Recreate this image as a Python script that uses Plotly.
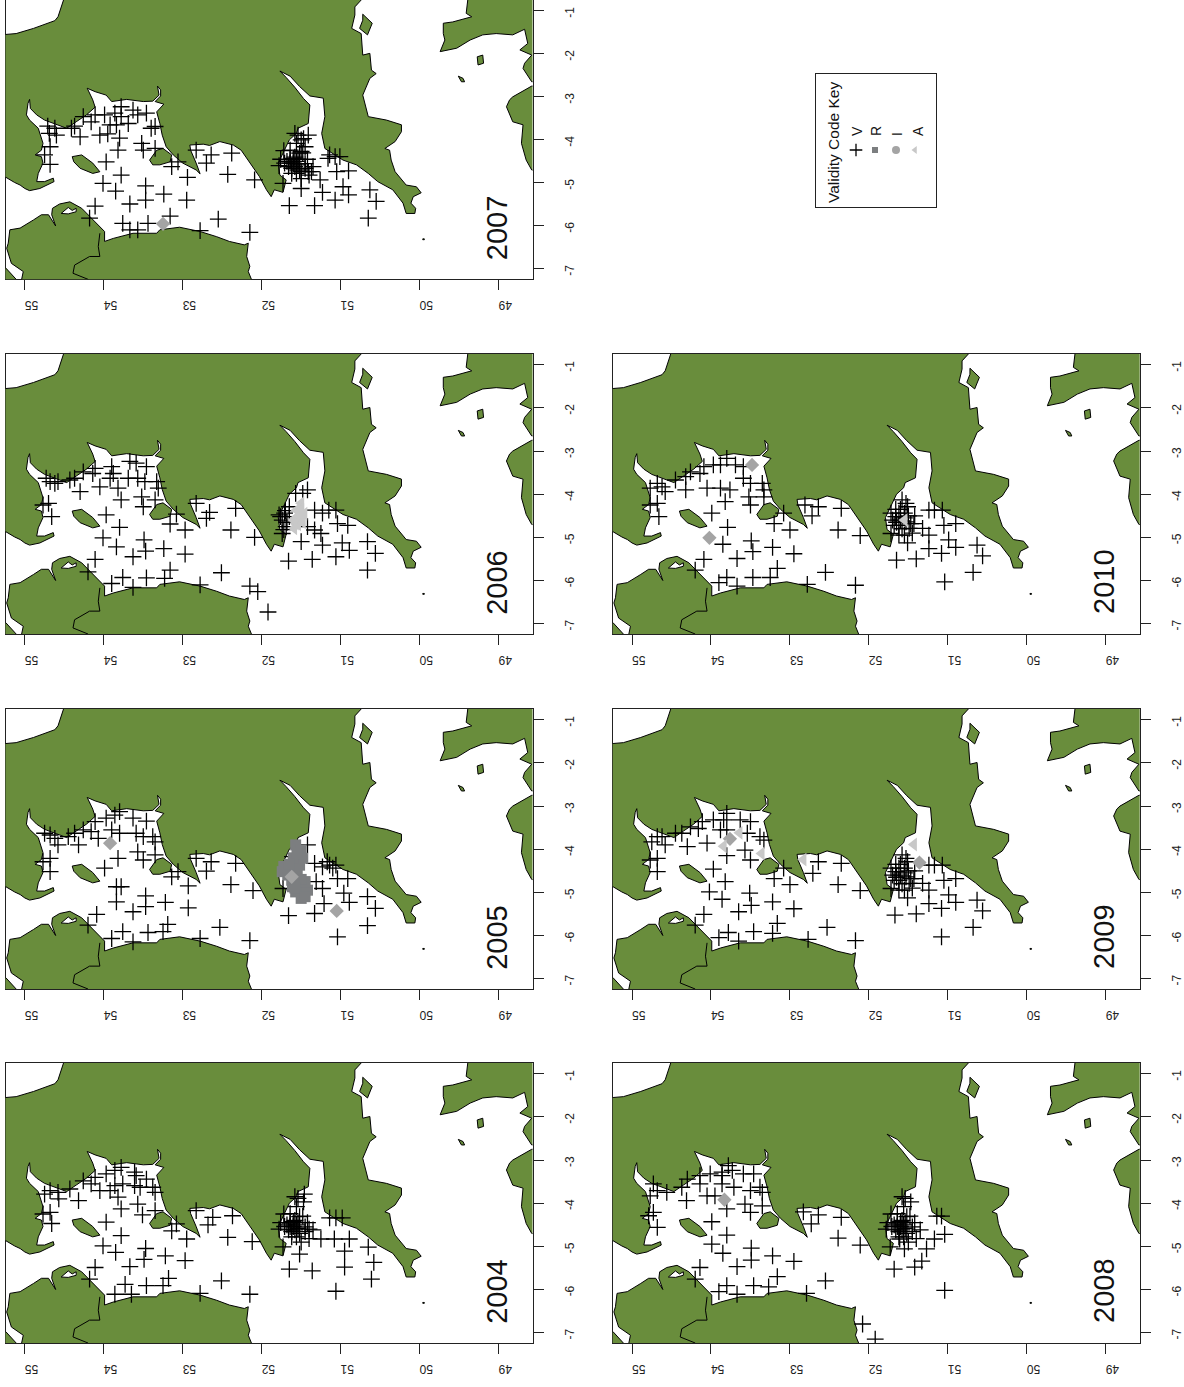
import plotly.graph_objects as go

YEARS = [2004, 2005, 2006, 2007, 2008, 2009, 2010]
TICK_LAT = [55, 54, 53, 52, 51, 50, 49]
TICK_LON = [-1, -2, -3, -4, -5, -6, -7]
CODES = ["V", "R", "I", "A"]

# Coastlines: (latitude, longitude) vertices
GREAT_BRITAIN = [(54.51,-0.6),(54.51,-0.75),(54.58,-1.14),(54.62,-1.23),(54.89,-1.41),(55.11,-1.53),(55.24,-1.55),(55.36,-1.55),(55.36,-4.87),(55.24,-4.87),(55.13,-4.99),(55.06,-5.05),(55.00,-5.13),(54.94,-5.18),(54.81,-5.13),(54.63,-4.97),(54.64,-4.89),(54.75,-4.97),(54.85,-4.97),(54.83,-4.78),(54.77,-4.54),(54.79,-4.39),(54.87,-4.35),(54.79,-4.24),(54.77,-4.08),(54.81,-3.85),(54.83,-3.73),(54.94,-3.54),(54.98,-3.42),(54.96,-3.15),(54.94,-3.06),(54.93,-3.27),(54.85,-3.42),(54.75,-3.54),(54.62,-3.63),(54.47,-3.73),(54.35,-3.58),(54.22,-3.42),(54.11,-3.24),(54.14,-3.07),(54.21,-2.80),(54.11,-2.88),(53.97,-2.96),(53.90,-3.11),(53.71,-3.06),(53.50,-3.11),(53.38,-3.10),(53.30,-2.96),(53.32,-2.75),(53.28,-2.84),(53.28,-2.98),(53.35,-3.11),(53.24,-3.17),(53.33,-3.35),(53.29,-3.62),(53.26,-3.89),(53.21,-4.16),(53.12,-4.35),(53.00,-4.54),(52.83,-4.70),(52.78,-4.79),(52.83,-4.54),(52.90,-4.24),(52.91,-4.12),(52.74,-4.10),(52.66,-4.13),(52.53,-4.04),(52.36,-4.12),(52.26,-4.24),(52.15,-4.54),(52.03,-4.85),(51.94,-5.16),(51.88,-5.32),(51.84,-5.16),(51.73,-5.22),(51.69,-4.93),(51.77,-4.82),(51.79,-4.54),(51.73,-4.31),(51.65,-4.00),(51.56,-3.85),(51.54,-3.73),(51.41,-3.62),(51.39,-3.19),(51.47,-3.04),(51.58,-2.78),(51.69,-2.55),(51.77,-2.40),(51.64,-2.52),(51.52,-2.76),(51.39,-2.98),(51.22,-3.03),(51.20,-3.46),(51.24,-3.85),(51.20,-4.20),(51.14,-4.27),(50.97,-4.47),(50.80,-4.58),(50.65,-4.78),(50.53,-4.97),(50.34,-5.16),(50.21,-5.47),(50.17,-5.71),(50.06,-5.71),(50.05,-5.59),(50.11,-5.47),(50.08,-5.32),(49.98,-5.23),(50.04,-5.09),(50.17,-5.05),(50.31,-4.74),(50.36,-4.47),(50.38,-4.24),(50.44,-4.20),(50.31,-4.04),(50.23,-3.81),(50.23,-3.65),(50.42,-3.54),(50.65,-3.46),(50.72,-2.96),(50.63,-2.57),(50.55,-2.46),(50.61,-2.38),(50.63,-1.99),(50.72,-2.03),(50.74,-1.53),(50.86,-1.41),(50.82,-1.10),(50.82,-0.91),(50.74,-0.75),(50.74,-0.52)]
WIGHT = [(50.72,-1.08),(50.60,-1.29),(50.66,-1.56),(50.76,-1.41),(50.72,-1.22)]
MAN = [(54.40,-4.39),(54.28,-4.35),(54.14,-4.54),(54.05,-4.74),(54.14,-4.78),(54.30,-4.66),(54.38,-4.51)]
ANGLESEY = [(53.42,-4.47),(53.33,-4.24),(53.25,-4.20),(53.14,-4.35),(53.16,-4.51),(53.29,-4.58),(53.38,-4.58)]
IRELAND = [(55.19,-6.09),(55.06,-6.05),(54.89,-5.86),(54.79,-5.74),(54.70,-5.74),(54.61,-6.00),(54.66,-5.74),(54.65,-5.59),(54.56,-5.49),(54.43,-5.44),(54.28,-5.59),(54.18,-5.78),(54.07,-5.98),(53.99,-6.13),(53.99,-6.36),(53.88,-6.29),(53.63,-6.17),(53.33,-6.17),(53.29,-6.09),(53.04,-6.03),(52.78,-6.13),(52.57,-6.25),(52.41,-6.36),(52.22,-6.44),(52.17,-6.40),(52.19,-6.71),(52.15,-6.94),(52.17,-7.06),(52.13,-7.24),(52.13,-7.41),(55.06,-7.41),(55.04,-7.24),(55.02,-7.06),(55.17,-6.87),(55.23,-6.52),(55.21,-6.40)]
DONEGAL = [(55.24,-6.98),(55.11,-7.24),(55.11,-7.45),(55.40,-7.45),(55.40,-6.98)]
FRANCE_N = [(49.39,-0.6),(49.39,-0.75),(49.41,-1.06),(49.34,-1.14),(49.58,-1.26),(49.70,-1.29),(49.70,-1.53),(49.68,-1.68),(49.74,-1.95),(49.53,-1.87),(49.36,-1.68),(49.20,-1.56),(49.03,-1.53),(48.82,-1.56),(48.67,-1.43),(48.63,-1.76),(48.73,-1.91),(48.58,-2.03),(48.67,-2.22),(48.69,-2.34),(48.58,-2.65),(48.48,-2.65),(48.48,-0.6)]
FRANCE_W = [(48.48,-2.73),(48.58,-2.75),(48.82,-3.00),(48.86,-3.07),(48.90,-3.23),(48.82,-3.58),(48.69,-3.65),(48.71,-4.08),(48.65,-4.47),(48.58,-4.70),(48.48,-4.74)]
JERSEY = [(49.27,-2.07),(49.20,-2.03),(49.19,-2.22),(49.26,-2.26)]
GUERNSEY = [(49.51,-2.52),(49.45,-2.57),(49.43,-2.65),(49.47,-2.65)]
SCILLY = [(49.96,-6.30),(49.94,-6.30),(49.94,-6.32),(49.96,-6.32)]
LAKE = [(54.54,-5.71),(54.45,-5.57),(54.40,-5.64),(54.35,-5.59),(54.35,-5.67),(54.45,-5.72),(54.54,-5.71)]
BORDER = [(54.05,-6.17),(54.07,-6.48),(54.05,-6.71),(54.18,-6.71),(54.37,-6.91),(54.39,-7.10),(54.20,-7.24),(54.13,-7.41)]
LAND = [GREAT_BRITAIN, WIGHT, MAN, ANGLESEY, IRELAND, DONEGAL, FRANCE_N, FRANCE_W, JERSEY, GUERNSEY, SCILLY]

# Dense sampling around the inlet, repeated in several years
CORE_A = [(51.68,-4.50),(51.64,-4.46),(51.60,-4.43),(51.64,-4.54),(51.60,-4.54),(51.56,-4.50),(51.66,-4.62),(51.62,-4.66),(51.58,-4.62),(51.54,-4.58),(51.71,-4.54),(51.52,-4.31),(51.56,-4.08),(51.54,-3.89),(51.47,-3.97),(51.58,-3.85),(51.64,-4.24),(51.52,-4.70),(51.45,-4.66),(51.56,-4.78),(51.62,-4.78),(51.50,-4.90),(51.73,-5.01),(51.58,-4.40),(51.54,-4.45),
          (51.45,-4.55),(51.40,-4.82),(51.35,-4.62),(51.42,-4.45),(51.48,-4.30),(51.78,-4.60),(51.76,-4.45),(51.72,-4.25)]
CORE_B = [(51.62,-4.44),(51.66,-4.52),(51.55,-4.44),(51.60,-4.60),(51.51,-4.29),(51.58,-4.13),(51.72,-4.44),(51.70,-4.60),(51.62,-4.72),(51.53,-4.64),(51.47,-4.68),(51.62,-4.95),(51.72,-4.91),(51.53,-4.21),(51.49,-4.79),
          (51.55,-4.55),(51.65,-4.65),(51.58,-4.80),(51.68,-4.72),(51.50,-4.50),(51.42,-4.50),(51.60,-4.35),(51.66,-4.35),(51.45,-4.90),(51.55,-4.95)]

V_2004 = [(53.78,-3.17),(53.61,-3.28),(53.46,-3.44),(53.97,-3.32),(53.86,-3.24),(54.11,-3.40),(54.26,-3.48),(54.68,-3.71),(54.75,-3.79),(54.58,-3.75),(54.57,-3.90),(54.32,-3.94),(54.43,-3.67),(54.05,-3.71),(54.16,-3.55),(53.92,-3.71),(53.86,-3.59),(53.76,-3.55),(53.61,-3.59),(53.54,-3.63),(53.38,-3.63),(53.35,-3.75),(53.82,-3.86),(53.78,-4.13),(53.57,-4.02),(53.51,-4.27),(53.35,-4.17),(53.59,-3.36),(54.68,-4.21),(54.77,-4.25),(54.66,-4.47),(53.97,-4.44),(53.78,-4.75),(54.01,-4.99),(53.85,-5.14),(53.47,-5.05),(53.49,-5.30),(53.22,-5.22),(52.97,-5.33),(53.67,-5.47),(54.11,-5.49),(54.18,-5.76),(53.73,-5.88),(53.86,-6.11),(53.65,-6.11),(53.46,-5.91),(53.25,-5.91),(53.18,-5.74),(52.78,-6.09),(52.51,-5.80),(52.15,-6.11),(51.65,-5.53),(52.12,-4.89),(52.43,-4.79),(52.95,-4.83),(53.14,-4.64),(53.08,-4.48),(52.83,-4.17),(52.62,-4.33),(52.68,-4.50),(52.37,-4.29),
          (51.46,-3.79),(51.14,-4.34),(51.06,-4.34),(50.98,-4.34),(51.08,-4.83),(50.89,-4.83),(51.40,-4.60),(51.25,-4.83),(51.52,-5.18),(50.95,-5.11),(50.65,-5.02),(50.61,-5.76),(50.58,-5.37),(50.95,-5.48),(51.36,-5.57),(51.06,-6.04)]
V_2005 = [(53.80,-3.13),(53.63,-3.28),(53.46,-3.35),(53.97,-3.28),(53.86,-3.21),(54.11,-3.36),(54.26,-3.55),(54.37,-3.63),(54.45,-3.71),(54.68,-3.67),(54.75,-3.63),(54.62,-3.75),(54.58,-3.90),(54.32,-3.90),(54.07,-3.75),(54.16,-3.59),(53.90,-3.55),(53.80,-3.63),(53.59,-3.63),(53.50,-3.71),(53.38,-3.71),(53.35,-3.83),(53.57,-4.06),(53.50,-4.25),(53.82,-4.21),(53.35,-4.13),(54.68,-4.21),(54.77,-4.29),(54.68,-4.52),(53.99,-4.44),(53.84,-4.87),(53.78,-4.87),(53.84,-5.22),(53.47,-5.08),(53.47,-5.33),(53.22,-5.23),(52.93,-5.36),(53.63,-5.45),(54.09,-5.51),(54.20,-5.76),(53.76,-5.91),(53.90,-6.07),(53.63,-6.15),(53.44,-5.93),(53.25,-5.91),(53.19,-5.74),(52.78,-6.07),(52.53,-5.81),(52.15,-6.12),(51.66,-5.54),(52.11,-4.96),(52.39,-4.82),(52.93,-4.85),(53.14,-4.64),(53.06,-4.52),(52.83,-4.21),(52.64,-4.29),(52.70,-4.51),(52.33,-4.33),
          (51.42,-3.90),(51.33,-4.33),(51.23,-4.41),(51.14,-4.37),(51.06,-4.37),(51.04,-4.68),(50.91,-4.68),(51.31,-4.75),(51.23,-4.91),(50.96,-5.02),(50.66,-5.10),(50.89,-5.23),(51.21,-5.26),(50.56,-5.37),(51.33,-5.49),(50.66,-5.77),(51.04,-6.03),(51.17,-4.29),(51.10,-4.44),(51.61,-4.17),(51.73,-4.91)]
V_2006 = [(53.67,-3.24),(53.46,-3.36),(53.59,-3.28),(53.90,-3.36),(54.11,-3.40),(54.26,-3.48),(54.37,-3.63),(54.43,-3.67),(54.62,-3.75),(54.68,-3.71),(54.73,-3.63),(54.58,-3.71),(54.70,-4.21),(54.77,-4.25),(54.66,-4.52),(54.30,-3.94),(54.05,-3.83),(54.14,-3.52),(53.88,-3.52),(53.92,-3.63),(53.82,-3.86),(53.78,-4.13),(53.69,-3.63),(53.57,-3.63),(53.48,-3.71),(53.33,-3.71),(53.31,-3.86),(53.52,-4.06),(53.50,-4.29),(53.35,-4.13),(53.97,-4.48),(53.80,-4.77),(54.01,-5.01),(53.84,-5.22),(53.49,-5.06),(53.47,-5.32),(53.24,-5.26),(52.97,-5.39),(53.63,-5.45),(54.11,-5.51),(54.20,-5.80),(53.76,-5.93),(53.90,-6.07),(53.63,-6.16),(53.46,-5.94),(53.23,-5.95),(53.16,-5.76),(52.78,-6.10),(52.51,-5.82),(52.15,-6.13),(52.05,-6.26),(51.92,-6.73),(51.66,-5.55),(52.09,-5.00),(52.39,-4.83),(52.97,-4.83),(53.16,-4.69),(53.08,-4.46),(52.83,-4.21),(52.66,-4.42),(52.70,-4.56),(52.33,-4.33),
          (51.42,-3.90),(51.33,-4.37),(51.23,-4.44),(51.15,-4.37),(51.06,-4.37),(51.04,-4.68),(50.91,-4.72),(51.42,-4.75),(51.33,-4.83),(51.25,-4.91),(50.98,-5.13),(50.66,-5.10),(50.89,-5.30),(51.50,-5.10),(51.23,-5.18),(51.06,-5.45),(50.56,-5.37),(51.36,-5.51),(50.66,-5.76),(51.71,-4.44),(51.74,-4.60),(51.65,-4.29),(51.69,-4.75),(51.74,-4.91),(51.65,-4.52),(51.78,-4.48),(51.57,-3.98),(51.48,-3.98),(51.70,-4.38),(51.76,-4.52),(51.68,-4.65),(51.72,-4.82)]
V_2007 = [(53.78,-3.23),(53.86,-3.38),(53.99,-3.42),(54.11,-3.42),(53.63,-3.31),(53.46,-3.38),(53.78,-3.46),(53.84,-3.65),(53.69,-3.62),(53.57,-3.42),(54.16,-3.58),(54.26,-3.46),(54.37,-3.68),(54.30,-3.93),(54.41,-3.73),(54.71,-3.68),(54.62,-3.73),(54.60,-3.89),(54.69,-3.85),(53.92,-3.65),(54.05,-3.89),(53.95,-3.86),(53.80,-3.96),(53.52,-4.08),(53.50,-4.24),(53.35,-3.69),(53.40,-3.73),(53.35,-4.20),(53.82,-4.24),(54.68,-4.16),(54.75,-4.35),(54.68,-4.57),(53.97,-4.51),(53.78,-4.82),(54.01,-5.01),(53.85,-5.19),(53.47,-5.07),(53.47,-5.40),(53.24,-5.26),(52.95,-5.40),(53.67,-5.49),(54.11,-5.54),(54.18,-5.82),(53.76,-5.94),(53.67,-6.09),(53.57,-6.09),(53.44,-5.94),(53.16,-5.77),(52.78,-6.11),(52.55,-5.84),(52.15,-6.15),(51.65,-5.53),(52.09,-4.93),(52.43,-4.80),(52.94,-4.87),(53.14,-4.62),(53.06,-4.51),(52.83,-4.24),(52.64,-4.35),(52.70,-4.54),(52.38,-4.31),
          (51.41,-3.89),(51.50,-4.00),(51.45,-4.16),(51.50,-4.27),(51.14,-4.35),(51.07,-4.39),(51.01,-4.39),(51.16,-4.43),(51.05,-4.74),(50.90,-4.72),(51.41,-4.74),(51.50,-4.74),(51.37,-4.74),(51.26,-4.93),(51.50,-5.13),(51.23,-5.22),(50.97,-5.09),(50.90,-5.28),(51.07,-5.40),(50.63,-5.16),(50.55,-5.43),(50.65,-5.82),(51.33,-5.53)]
V_2008 = [(53.78,-3.13),(53.86,-3.28),(53.73,-3.24),(53.59,-3.32),(53.46,-3.32),(54.01,-3.32),(54.14,-3.36),(54.14,-3.55),(54.30,-3.44),(54.37,-3.63),(54.56,-3.75),(54.68,-3.71),(54.73,-3.55),(54.77,-3.83),(54.31,-3.94),(54.05,-3.83),(53.95,-3.83),(53.86,-3.36),(53.86,-3.55),(53.71,-3.63),(53.50,-3.71),(53.38,-3.63),(53.35,-3.75),(53.57,-4.02),(53.50,-4.21),(53.80,-4.13),(53.35,-4.06),(54.73,-4.21),(54.79,-4.29),(54.68,-4.56),(53.99,-4.43),(53.80,-4.74),(53.99,-4.95),(53.85,-5.16),(53.49,-5.04),(53.49,-5.32),(53.22,-5.22),(52.95,-5.35),(53.67,-5.47),(54.14,-5.49),(54.20,-5.76),(53.80,-5.91),(53.90,-6.05),(53.67,-6.11),(53.46,-5.91),(53.27,-5.94),(53.16,-5.70),(52.79,-6.09),(52.55,-5.80),(52.08,-6.80),(51.92,-7.15),(51.68,-5.53),(52.11,-4.97),(52.39,-4.81),(52.83,-4.20),(52.64,-4.27),(52.73,-4.48),(52.35,-4.33),
          (51.04,-6.02),(51.42,-5.48),(51.14,-4.30),(51.08,-4.30),(51.04,-4.72),(51.27,-5.06),(51.33,-5.34),(51.17,-4.83),(51.55,-5.06),(51.61,-4.83)]
V_2009 = [(53.80,-3.17),(53.84,-3.32),(53.63,-3.32),(53.50,-3.36),(53.97,-3.32),(54.11,-3.36),(54.26,-3.48),(54.37,-3.63),(54.45,-3.63),(54.62,-3.71),(54.68,-3.71),(54.75,-3.83),(54.58,-3.90),(54.30,-3.94),(54.05,-3.86),(54.16,-3.52),(53.88,-3.55),(53.80,-3.55),(53.54,-3.63),(53.38,-3.71),(53.33,-3.79),(53.57,-4.02),(53.50,-4.25),(53.80,-4.15),(54.68,-4.21),(54.77,-4.25),(54.68,-4.52),(53.97,-4.46),(53.82,-4.75),(54.02,-4.99),(53.86,-5.16),(53.51,-5.02),(53.49,-5.30),(53.22,-5.22),(52.95,-5.38),(53.65,-5.45),(54.09,-5.51),(54.20,-5.76),(53.78,-5.93),(53.90,-6.05),(53.65,-6.13),(53.46,-5.91),(53.22,-5.95),(53.16,-5.72),(52.77,-6.09),(52.53,-5.81),(52.17,-6.12),(51.67,-5.53),(52.11,-4.96),(52.39,-4.82),(53.00,-4.82),(53.20,-4.68),(53.08,-4.44),(52.64,-4.29),(52.71,-4.56),(52.35,-4.33),
          (51.24,-4.37),(51.17,-4.37),(51.07,-4.37),(51.05,-4.72),(50.90,-4.68),(51.43,-4.68),(51.32,-4.79),(51.24,-4.95),(50.99,-5.06),(50.63,-5.18),(50.90,-5.23),(51.51,-5.13),(51.24,-5.26),(51.08,-5.37),(50.56,-5.43),(51.40,-5.50),(50.68,-5.81),(51.08,-6.03)]
V_2010 = [(53.80,-3.17),(53.88,-3.32),(53.97,-3.32),(54.09,-3.36),(53.69,-3.32),(53.59,-3.36),(54.14,-3.52),(54.26,-3.48),(54.32,-3.59),(54.45,-3.67),(54.68,-3.75),(54.62,-3.83),(54.77,-3.86),(54.58,-3.94),(54.32,-3.90),(54.05,-3.86),(53.88,-3.86),(53.76,-3.90),(53.59,-3.63),(53.50,-3.75),(53.35,-3.75),(53.33,-3.90),(53.52,-4.06),(53.50,-4.25),(53.82,-4.17),(53.33,-4.06),(54.68,-4.21),(54.77,-4.25),(54.66,-4.52),(53.99,-4.44),(53.79,-4.77),(53.85,-5.16),(53.49,-5.08),(53.47,-5.33),(53.22,-5.23),(52.95,-5.38),(53.67,-5.49),(54.09,-5.51),(54.20,-5.76),(53.80,-5.93),(53.90,-6.05),(53.67,-6.13),(53.47,-5.93),(53.25,-5.93),(53.16,-5.72),(52.78,-6.09),(52.55,-5.81),(52.17,-6.11),(51.65,-5.53),(52.11,-4.96),(52.39,-4.83),(53.00,-4.83),(53.20,-4.68),(53.08,-4.44),(52.81,-4.25),(52.64,-4.29),(52.72,-4.50),(52.35,-4.33),
          (51.24,-4.37),(51.17,-4.37),(51.07,-4.37),(51.05,-4.72),(50.90,-4.68),(51.43,-4.68),(51.32,-4.79),(51.24,-4.95),(50.99,-5.06),(50.63,-5.18),(50.90,-5.23),(51.51,-5.13),(51.24,-5.26),(51.08,-5.37),(50.56,-5.43),(51.40,-5.50),(50.68,-5.81),(51.04,-6.03)]

VALID = {2004: V_2004 + CORE_A, 2005: V_2005, 2006: V_2006, 2007: V_2007 + CORE_A,
         2008: V_2008 + CORE_A, 2009: V_2009 + CORE_B, 2010: V_2010 + CORE_B}

R_2005 = [(51.57,-3.90),(51.50,-4.02),(51.48,-4.21),(51.52,-4.37),(51.61,-4.44),(51.69,-4.48),(51.74,-4.52),(51.67,-4.60),(51.57,-4.75),(51.61,-4.87),(51.52,-4.83),(51.48,-4.99),(51.50,-5.14),(51.42,-4.95),(51.57,-4.99),(51.55,-4.56),
          (51.72,-4.40),(51.60,-4.20),(51.55,-4.10),(51.65,-4.35),(51.45,-4.75),(51.62,-4.72),(51.50,-4.70),(51.58,-4.90),(51.45,-5.10)]
FLAG_R = {2005: R_2005}
FLAG_I = {2005: [(53.92,-3.86),(51.62,-4.64),(51.05,-5.43)], 2007: [(53.25,-5.95)], 2008: [(53.83,-3.92)],
          2009: [(53.76,-3.76),(51.36,-4.31)], 2010: [(53.48,-3.32),(54.02,-5.01)]}
FLAG_A = {2006: [(51.50,-4.21),(51.52,-4.37),(51.55,-4.52),(51.57,-4.68),(51.59,-4.79),(51.50,-4.52),(51.56,-4.37),(51.50,-4.37),(51.46,-4.45),(51.54,-4.70),(51.48,-4.65),(51.60,-4.60)],
          2009: [(53.64,-3.62),(53.84,-3.93),(53.36,-4.10),(52.83,-4.24),(51.43,-3.89)],
          2010: [(51.55,-4.60)]}

W, H = 1184, 1387
GREEN = "#698d3c"
COLS = {"R": "#7c7e80", "I": "#a4a4a4", "A": "#c8c8c8"}
LEFT = [5.5, 612.7]
WIDTH = 527
PLACE = {2007: (0, 0, 279.3), 2006: (0, 354, 280), 2005: (0, 709, 280), 2004: (0, 1063, 280),
         2010: (1, 354, 280), 2009: (1, 709, 280), 2008: (1, 1063, 280)}


def unzip(points):
    return [p[0] for p in points], [p[1] for p in points]


land_lat, land_lon = [], []
for poly in LAND:
    a, b = unzip(poly + poly[:1])
    land_lat += a + [None]
    land_lon += b + [None]

NB = "\u00a0"
fig = go.Figure()
layout = {}
notes = []
for i, year in enumerate(YEARS, start=1):
    col, top, tall = PLACE[year]
    xa, ya = f"x{i}", f"y{i}"
    suffix = "" if i == 1 else str(i)
    layout["xaxis" + suffix] = dict(
        domain=[LEFT[col] / W, (LEFT[col] + WIDTH) / W], range=[55.245, 48.57], anchor=ya,
        tickmode="array", tickvals=TICK_LAT, ticktext=[NB * 3 + str(t) for t in TICK_LAT], tickangle=180,
        ticks="outside", ticklen=10, tickwidth=1, tickcolor="#222", showgrid=False, zeroline=False,
        showline=True, mirror=True, linecolor="#222", linewidth=1.2, layer="below traces",
        ticklabelstandoff=8, tickfont=dict(family="Liberation Sans", size=12, color="#222"))
    layout["yaxis" + suffix] = dict(
        domain=[1 - (top + tall) / H, 1 - top / H], range=[-7.24, -0.75], anchor=xa, side="right",
        tickmode="array", tickvals=TICK_LON, ticktext=[str(t) + NB * 2 for t in TICK_LON], tickangle=-90,
        ticks="outside", ticklen=10, tickwidth=1, tickcolor="#222", showgrid=False, zeroline=False,
        showline=True, mirror=True, linecolor="#222", linewidth=1.2, layer="below traces",
        ticklabelstandoff=16, tickfont=dict(family="Liberation Sans", size=12, color="#222"))
    common = dict(xaxis=xa, yaxis=ya, showlegend=False, hoverinfo="skip")
    fig.add_trace(go.Scatter(x=land_lat, y=land_lon, mode="lines", fill="toself", fillcolor=GREEN,
                             line=dict(color="black", width=1), **common))
    a, b = unzip(LAKE)
    fig.add_trace(go.Scatter(x=a, y=b, mode="lines", fill="toself", fillcolor="white",
                             line=dict(color="black", width=1), **common))
    a, b = unzip(BORDER)
    fig.add_trace(go.Scatter(x=a, y=b, mode="lines", line=dict(color="black", width=1), **common))
    a, b = unzip(VALID[year])
    fig.add_trace(go.Scatter(x=a, y=b, mode="markers", marker=dict(
        symbol="cross-thin", size=12, line=dict(color="black", width=1.3)), **common))
    for data, sym, size, key in ((FLAG_R, "square", 11, "R"), (FLAG_I, "diamond", 11, "I"), (FLAG_A, "triangle-left", 12, "A")):
        if year in data:
            a, b = unzip(data[year])
            fig.add_trace(go.Scatter(x=a, y=b, mode="markers", marker=dict(
                symbol=sym, size=size, color=COLS[key], line=dict(width=0)), **common))
    notes.append(dict(x=49.02, y=-6.03, xref=xa, yref=ya, text=str(year), textangle=-90, showarrow=False,
                      font=dict(family="Liberation Sans", size=29, color="#111")))

# Legend panel
n = len(YEARS) + 1
LX0, LX1, LY0, LY1 = 816, 936, 74, 207
layout[f"xaxis{n}"] = dict(domain=[LX0 / W, LX1 / W], range=[LX0, LX1], anchor=f"y{n}", showticklabels=False,
                           ticks="", showgrid=False, zeroline=False, showline=True, mirror=True,
                           linecolor="#222", linewidth=1.2)
layout[f"yaxis{n}"] = dict(domain=[1 - LY1 / H, 1 - LY0 / H], range=[LY1, LY0], anchor=f"x{n}", showticklabels=False,
                           ticks="", showgrid=False, zeroline=False, showline=True, mirror=True,
                           linecolor="#222", linewidth=1.2)
KEY_X = [856, 875, 896, 915]
KEY_Y = [150, 150, 150, 150]
KEY_SYM = ["cross-thin", "square", "circle", "triangle-left"]
KEY_SIZE = [9, 6, 8, 7]
LABEL_X = [857, 876, 897, 918]
for c, kx, ky, s, z, lx in zip(CODES, KEY_X, KEY_Y, KEY_SYM, KEY_SIZE, LABEL_X):
    mk = dict(symbol=s, size=z, color=COLS.get(c, "black"), line=dict(width=0))
    if c == "V":
        mk = dict(symbol=s, size=z, line=dict(color="black", width=1.3))
    fig.add_trace(go.Scatter(x=[kx], y=[ky], mode="markers", marker=mk, xaxis=f"x{n}", yaxis=f"y{n}",
                             showlegend=False, hoverinfo="skip"))
    notes.append(dict(x=lx, y=138, xref=f"x{n}", yref=f"y{n}", text=c, textangle=-90, showarrow=False,
                      xanchor="center", yanchor="bottom", font=dict(family="Liberation Sans", size=14, color="#111")))
notes.append(dict(x=833, y=143, xref=f"x{n}", yref=f"y{n}", text="Validity Code Key", textangle=-90, showarrow=False,
                  font=dict(family="Liberation Sans", size=15.5, color="#111")))

fig.update_layout(width=W, height=H, autosize=False, margin=dict(l=0, r=0, t=0, b=0),
                  paper_bgcolor="white", plot_bgcolor="white", annotations=notes, **layout)
fig.write_html("out.html", post_script="document.body.style.margin='0';", config={"displayModeBar": False})
